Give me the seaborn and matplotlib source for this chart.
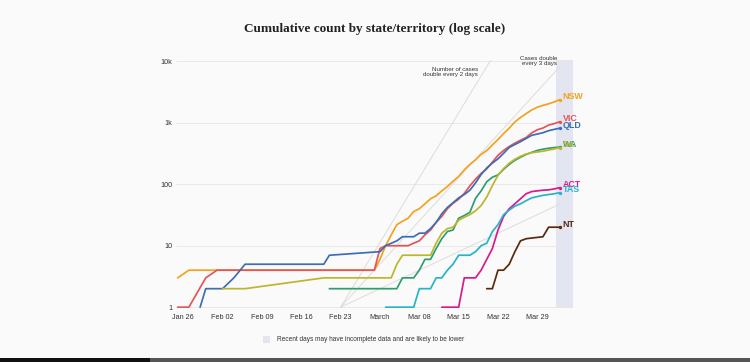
import matplotlib
matplotlib.use("Agg")
import matplotlib.pyplot as plt
from matplotlib.patches import Rectangle
from matplotlib.ticker import NullLocator
import seaborn as sns
import pandas as pd

# ---------------- data ----------------
STATES = ["NSW", "VIC", "QLD", "WA", "SA", "ACT", "TAS", "NT"]
COLORS = ["#f4a21e", "#e5545a", "#3c6eb4", "#2f9e6e", "#bdb62c", "#d81b8c", "#27b3c9", "#5b2a0c"]

NSW = [("2020-01-25", 3), ("2020-01-27", 4), ("2020-02-29", 4), ("2020-03-01", 6), ("2020-03-02", 10),
       ("2020-03-03", 15), ("2020-03-04", 22), ("2020-03-05", 25), ("2020-03-06", 28), ("2020-03-07", 36),
       ("2020-03-08", 40), ("2020-03-09", 48), ("2020-03-10", 58), ("2020-03-11", 65), ("2020-03-12", 78),
       ("2020-03-13", 92), ("2020-03-14", 112), ("2020-03-15", 134), ("2020-03-16", 171), ("2020-03-17", 210),
       ("2020-03-18", 250), ("2020-03-19", 307), ("2020-03-20", 353), ("2020-03-21", 436), ("2020-03-22", 533),
       ("2020-03-23", 669), ("2020-03-24", 818), ("2020-03-25", 1029), ("2020-03-26", 1219), ("2020-03-27", 1405),
       ("2020-03-28", 1617), ("2020-03-29", 1791), ("2020-03-30", 1918), ("2020-03-31", 2032), ("2020-04-01", 2182),
       ("2020-04-02", 2380)]
VIC = [("2020-01-25", 1), ("2020-01-27", 1), ("2020-01-30", 3), ("2020-02-01", 4), ("2020-02-29", 4),
       ("2020-03-01", 9), ("2020-03-02", 10), ("2020-03-06", 10), ("2020-03-07", 11), ("2020-03-08", 12),
       ("2020-03-09", 15), ("2020-03-10", 18), ("2020-03-11", 24), ("2020-03-12", 30), ("2020-03-13", 40),
       ("2020-03-14", 49), ("2020-03-15", 57), ("2020-03-16", 71), ("2020-03-17", 94), ("2020-03-18", 121),
       ("2020-03-19", 150), ("2020-03-20", 178), ("2020-03-21", 229), ("2020-03-22", 296), ("2020-03-23", 355),
       ("2020-03-24", 411), ("2020-03-25", 466), ("2020-03-26", 520), ("2020-03-27", 574), ("2020-03-28", 685),
       ("2020-03-29", 769), ("2020-03-30", 821), ("2020-03-31", 917), ("2020-04-01", 968), ("2020-04-02", 1040)]
QLD = [("2020-01-29", 1), ("2020-01-30", 2), ("2020-02-02", 2), ("2020-02-04", 3), ("2020-02-06", 5),
       ("2020-02-20", 5), ("2020-02-21", 7), ("2020-03-01", 8), ("2020-03-02", 10), ("2020-03-04", 12),
       ("2020-03-05", 14), ("2020-03-07", 14), ("2020-03-08", 16), ("2020-03-09", 16), ("2020-03-10", 19),
       ("2020-03-11", 24), ("2020-03-12", 33), ("2020-03-13", 42), ("2020-03-14", 50), ("2020-03-15", 60),
       ("2020-03-16", 68), ("2020-03-17", 80), ("2020-03-18", 105), ("2020-03-19", 144), ("2020-03-20", 184),
       ("2020-03-21", 221), ("2020-03-22", 259), ("2020-03-23", 319), ("2020-03-24", 397), ("2020-03-25", 443),
       ("2020-03-26", 493), ("2020-03-27", 555), ("2020-03-28", 625), ("2020-03-29", 656), ("2020-03-30", 689),
       ("2020-03-31", 743), ("2020-04-01", 781), ("2020-04-02", 815)]
WA = [("2020-02-21", 2), ("2020-03-04", 2), ("2020-03-05", 3), ("2020-03-07", 3), ("2020-03-08", 4),
      ("2020-03-09", 6), ("2020-03-10", 6), ("2020-03-11", 9), ("2020-03-12", 13), ("2020-03-13", 17),
      ("2020-03-14", 18), ("2020-03-15", 28), ("2020-03-16", 31), ("2020-03-17", 35), ("2020-03-18", 59),
      ("2020-03-19", 78), ("2020-03-20", 110), ("2020-03-21", 130), ("2020-03-22", 142), ("2020-03-23", 175),
      ("2020-03-24", 210), ("2020-03-25", 245), ("2020-03-26", 275), ("2020-03-27", 305), ("2020-03-28", 330),
      ("2020-03-29", 355), ("2020-03-30", 372), ("2020-03-31", 385), ("2020-04-01", 395), ("2020-04-02", 402)]
SA = [("2020-02-02", 2), ("2020-02-06", 2), ("2020-02-20", 3), ("2020-03-03", 3), ("2020-03-04", 5),
      ("2020-03-05", 7), ("2020-03-10", 7), ("2020-03-11", 11), ("2020-03-12", 16), ("2020-03-13", 19),
      ("2020-03-14", 20), ("2020-03-15", 26), ("2020-03-16", 29), ("2020-03-17", 32), ("2020-03-18", 37),
      ("2020-03-19", 45), ("2020-03-20", 62), ("2020-03-21", 95), ("2020-03-22", 140), ("2020-03-23", 180),
      ("2020-03-24", 220), ("2020-03-25", 255), ("2020-03-26", 285), ("2020-03-27", 310), ("2020-03-28", 325),
      ("2020-03-29", 335), ("2020-03-30", 345), ("2020-03-31", 360), ("2020-04-01", 375), ("2020-04-02", 395)]
ACT = [("2020-03-12", 1), ("2020-03-15", 1), ("2020-03-16", 3), ("2020-03-18", 3), ("2020-03-19", 4),
       ("2020-03-20", 6), ("2020-03-21", 9), ("2020-03-22", 18), ("2020-03-23", 30), ("2020-03-24", 40),
       ("2020-03-25", 48), ("2020-03-26", 58), ("2020-03-27", 70), ("2020-03-28", 76), ("2020-03-29", 78),
       ("2020-03-30", 80), ("2020-03-31", 81), ("2020-04-01", 84), ("2020-04-02", 88)]
TAS = [("2020-03-02", 1), ("2020-03-07", 1), ("2020-03-08", 2), ("2020-03-10", 2), ("2020-03-11", 3),
       ("2020-03-12", 3), ("2020-03-13", 4), ("2020-03-14", 5), ("2020-03-15", 7), ("2020-03-17", 7),
       ("2020-03-18", 8), ("2020-03-19", 10), ("2020-03-20", 11), ("2020-03-21", 17), ("2020-03-22", 22),
       ("2020-03-23", 32), ("2020-03-24", 38), ("2020-03-25", 44), ("2020-03-26", 48), ("2020-03-27", 54),
       ("2020-03-28", 60), ("2020-03-29", 63), ("2020-03-30", 66), ("2020-03-31", 68), ("2020-04-01", 70),
       ("2020-04-02", 73)]
NT = [("2020-03-20", 2), ("2020-03-21", 2), ("2020-03-22", 4), ("2020-03-23", 4), ("2020-03-24", 5),
      ("2020-03-25", 8), ("2020-03-26", 12), ("2020-03-27", 13), ("2020-03-30", 14), ("2020-03-31", 20),
      ("2020-04-02", 20)]

SERIES = [NSW, VIC, QLD, WA, SA, ACT, TAS, NT]

TICK_DATES = ["2020-01-26", "2020-02-02", "2020-02-09", "2020-02-16", "2020-02-23",
              "2020-03-01", "2020-03-08", "2020-03-15", "2020-03-22", "2020-03-29"]
TICK_LABELS = ["Jan 26", "Feb 02", "Feb 09", "Feb 16", "Feb 23",
               "March", "Mar 08", "Mar 15", "Mar 22", "Mar 29"]
Y_TICKS = [1, 10, 100, 1000, 10000]
Y_LABELS = ["1", "10", "100", "1k", "10k"]

DOUBLING_START = "2020-02-23"
DOUBLING_END = "2020-04-02"
DOUBLING_DAYS = [2, 3, 7]

BAND_START = "2020-04-01 07:00"
BAND_END = "2020-04-04 07:00"

TITLE = "Cumulative count by state/territory (log scale)"
NOTE = "Recent days may have incomplete data and are likely to be lower"

# ---------------- build table ----------------
rows = []
for name, ser in zip(STATES, SERIES):
    for d, v in ser:
        rows.append({"state": name, "date": pd.Timestamp(d), "cases": v})
df = pd.DataFrame(rows)
palette = dict(zip(STATES, COLORS))

# ---------------- style ----------------
sns.set_theme(style="white")
plt.rcParams["font.family"] = ["Liberation Sans", "DejaVu Sans"]
BG = "#fafafa"

fig = plt.figure(figsize=(7.5, 3.62), dpi=100)
fig.patch.set_facecolor(BG)
W, H = 750.0, 362.0
ax = fig.add_axes([176 / W, 1 - 308 / H, (572.7 - 176) / W, (308 - 60) / H])
ax.set_facecolor(BG)

# band for recent days
ax.axvspan(pd.Timestamp(BAND_START), pd.Timestamp(BAND_END), color="#e3e6f0", zorder=0, lw=0)

# doubling guide lines
t0, t1 = pd.Timestamp(DOUBLING_START), pd.Timestamp(DOUBLING_END)
ndays = (t1 - t0).days
for dd in DOUBLING_DAYS:
    ax.plot([t0, t1], [1, 2 ** (ndays / dd)], color="#dcdcdc", lw=0.7, zorder=1)

sns.lineplot(data=df, x="date", y="cases", hue="state", hue_order=STATES, palette=palette,
             estimator=None, legend=False, linewidth=1.25, ax=ax, zorder=3)

# end markers and labels
for name, ser, col in zip(STATES, SERIES, COLORS):
    d, v = ser[-1]
    ax.scatter([pd.Timestamp(d)], [v], s=6, color=col, zorder=4, linewidths=0)
    ax.annotate(name, xy=(pd.Timestamp(d), v), xytext=(2.0, 2.0), textcoords="offset points",
                ha="left", va="center", fontsize=6.4, fontweight="bold", color=col,
                annotation_clip=False, zorder=5)

ax.set_yscale("log")
ax.set_ylim(0.97, 10500)
ax.set_xlim(pd.Timestamp("2020-01-24 17:00"), pd.Timestamp("2020-04-04 07:00"))
ax.set_yticks(Y_TICKS)
ax.set_yticklabels(Y_LABELS)
ax.yaxis.set_minor_locator(NullLocator())
ax.set_xticks(pd.to_datetime(TICK_DATES))
ax.set_xticklabels(TICK_LABELS)
ax.xaxis.set_minor_locator(NullLocator())
ax.tick_params(axis="y", length=0, pad=2.5, labelsize=5.2, labelcolor="#333333")
ax.tick_params(axis="x", length=2.5, width=0.5, color="#cccccc", pad=2, labelsize=5.2, labelcolor="#333333")
ax.grid(axis="y", color="#e6e6e6", lw=0.6, zorder=0)
ax.grid(axis="x", visible=False)
ax.set_axisbelow(True)
for s in ax.spines.values():
    s.set_visible(False)
ax.set_xlabel("")
ax.set_ylabel("")

# titles and annotations
fig.text(0.5, 1 - 29 / H, TITLE, ha="center", va="center", fontsize=9.5,
         family=["Liberation Serif", "DejaVu Serif"], fontweight="bold", color="#222222")
fig.text(478 / W, 1 - 72 / H, "Number of cases\ndouble every 2 days", ha="right", va="center",
         fontsize=4.4, linespacing=1.05, color="#333333")
fig.text(557 / W, 1 - 61 / H, "Cases double\nevery 3 days", ha="right", va="center",
         fontsize=4.4, linespacing=1.05, color="#333333")

fig.patches.append(Rectangle((263 / W, 1 - 343 / H), 7 / W, 7 / H, transform=fig.transFigure,
                             facecolor="#e3e6f0", edgecolor="none"))
fig.text(277 / W, 1 - 339.5 / H, NOTE, ha="left", va="center", fontsize=4.7, color="#333333")

# screenshot bottom strip
fig.patches.append(Rectangle((0, 0), 150 / W, 4 / H, transform=fig.transFigure,
                             facecolor="#111111", edgecolor="none"))
fig.patches.append(Rectangle((150 / W, 0), 600 / W, 4 / H, transform=fig.transFigure,
                             facecolor="#555555", edgecolor="none"))

fig.savefig("out.png", dpi=100, facecolor=BG)
